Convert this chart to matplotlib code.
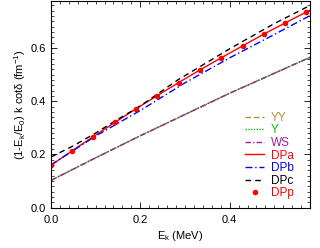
import matplotlib
matplotlib.use("Agg")
import matplotlib.pyplot as plt
from matplotlib.ticker import MultipleLocator

plt.rcParams['font.family'] = ['Liberation Sans', 'DejaVu Sans']
plt.rcParams['mathtext.fontset'] = 'custom'
plt.rcParams['mathtext.rm'] = 'Liberation Sans'
plt.rcParams['mathtext.it'] = 'Liberation Sans'

# lower group (YY, Y, WS nearly coincide)
ek_low = [0.0, 0.1, 0.2, 0.3, 0.4, 0.5, 0.58]
yy_vals = [0.102, 0.187, 0.270, 0.350, 0.430, 0.505, 0.565]
y_vals = [0.102, 0.187, 0.270, 0.350, 0.430, 0.505, 0.565]
ws_vals = [0.102, 0.187, 0.270, 0.350, 0.430, 0.505, 0.565]

# DPp points
ek_p = [0.0, 0.048, 0.095, 0.143, 0.190, 0.238, 0.286, 0.333, 0.381, 0.429, 0.476, 0.524, 0.571]
dpp_vals = [0.159, 0.214, 0.267, 0.320, 0.371, 0.421, 0.470, 0.517, 0.563, 0.608, 0.652, 0.694, 0.735]

# DPa line
ek_a = [0.0, 0.048, 0.095, 0.143, 0.190, 0.238, 0.286, 0.333, 0.381, 0.429, 0.476, 0.524, 0.571, 0.58]
dpa_vals = [0.159, 0.214, 0.267, 0.320, 0.371, 0.421, 0.470, 0.517, 0.563, 0.608, 0.652, 0.694, 0.735, 0.742]

# DPb line
ek_b = [0.0, 0.1, 0.2, 0.3, 0.4, 0.5, 0.58]
dpb_vals = [0.160, 0.269, 0.365, 0.469, 0.563, 0.651, 0.722]

# DPc line
ek_c = [0.0, 0.05, 0.1, 0.142, 0.2, 0.284, 0.4, 0.5, 0.58]
dpc_vals = [0.190, 0.232, 0.280, 0.324, 0.382, 0.480, 0.597, 0.692, 0.760]

labels = ['YY', 'Y', 'WS', 'DPa', 'DPb', 'DPc', 'DPp']
colors = ['#b8913f', '#00c000', '#a020a0', '#ff0000', '#0000ff', '#000000', '#ff0000']

fig = plt.figure(figsize=(3.2, 2.48), dpi=100)
ax = fig.add_axes([0.159, 0.163, 0.81, 0.831])

ax.plot(ek_low, yy_vals, color=colors[0], ls=(0, (4, 2)), lw=1.0, label=labels[0])
ax.plot(ek_low, y_vals, color=colors[1], ls=(0, (1, 1)), lw=1.0, label=labels[1])
ax.plot(ek_low, ws_vals, color=colors[2], ls=(0, (4, 1.5, 1, 1.5)), lw=1.0, label=labels[2])
ax.plot(ek_a, dpa_vals, color=colors[3], ls='-', lw=1.0, label=labels[3])
ax.plot(ek_b, dpb_vals, color=colors[4], ls=(0, (5, 2, 1, 2)), lw=1.0, label=labels[4])
ax.plot(ek_c, dpc_vals, color=colors[5], ls=(0, (4, 3)), lw=1.0, label=labels[5])
ax.plot(ek_p, dpp_vals, color=colors[6], ls='none', marker='o', ms=3, label=labels[6])

ax.set_xlim(0, 0.58)
ax.set_ylim(0, 0.775)
ax.xaxis.set_major_locator(MultipleLocator(0.2))
ax.xaxis.set_minor_locator(MultipleLocator(0.02))
ax.yaxis.set_major_locator(MultipleLocator(0.2))
ax.yaxis.set_minor_locator(MultipleLocator(0.02))
ax.xaxis.set_major_formatter(matplotlib.ticker.FormatStrFormatter('%.1f'))
ax.yaxis.set_major_formatter(matplotlib.ticker.FormatStrFormatter('%.1f'))
ax.tick_params(which='both', direction='in', top=True, right=True, labelsize=8)
ax.tick_params(axis='x', which='major', pad=5)
ax.tick_params(which='major', length=4, width=0.6)
ax.tick_params(which='minor', length=2, width=0.5)
for s in ax.spines.values():
    s.set_linewidth(0.8)

ax.set_xlabel(r'E$_\mathrm{k}$ (MeV)', fontsize=8, labelpad=3)
ax.set_ylabel(r'(1-E$_\mathrm{k}$/E$_0$) k cot$\delta$ (fm$^{-1}$)', fontsize=8, labelpad=2)

leg = ax.legend(loc='lower right', bbox_to_anchor=(0.97, 0.0), frameon=False,
                fontsize=8.5, handlelength=1.6, handletextpad=0.6,
                labelspacing=0.05, borderaxespad=0.3, labelcolor=colors)

fig.savefig('out.png', dpi=100)
